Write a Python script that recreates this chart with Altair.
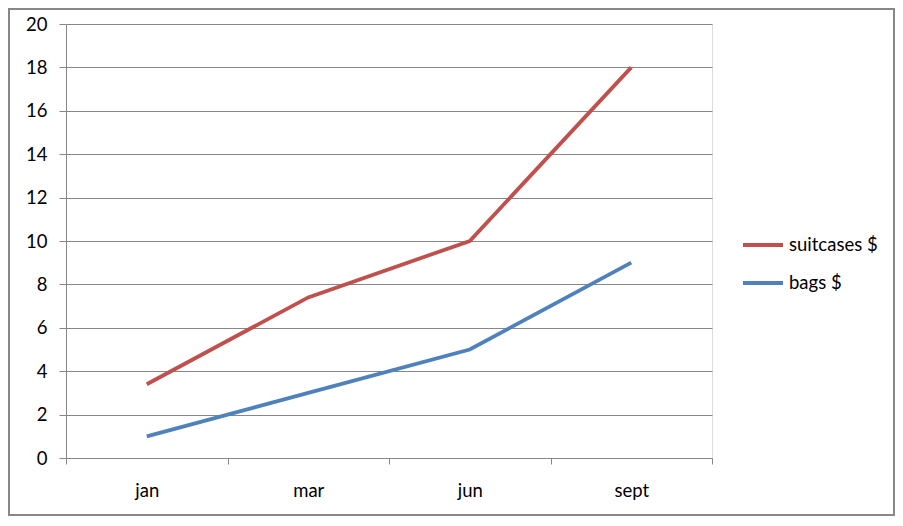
import altair as alt
import pandas as pd

months = ["jan", "mar", "jun", "sept"]
suitcases = [3.4, 7.4, 10, 18]
bags = [1, 3, 5, 9]
series_names = ["suitcases $", "bags $"]
series_colors = ["#C0504D", "#4F81BD"]

rows = []
for m, v in zip(months, suitcases):
    rows.append({"month": m, "value": v, "series": series_names[0]})
for m, v in zip(months, bags):
    rows.append({"month": m, "value": v, "series": series_names[1]})
df = pd.DataFrame(rows)

FONT = "Lato"
FS = 18.5
GRAY = "#878787"
W, H = 646, 434
PL, PT = 58, 16
TW, TH = 887, 508

lines = alt.Chart(df).mark_line(strokeWidth=3.8).encode(
    x=alt.X(
        "month:N",
        sort=months,
        bandPosition=0.5,
        scale=alt.Scale(type="band", paddingInner=0, paddingOuter=0),
        axis=alt.Axis(
            title=None,
            tickBand="extent",
            tickSize=6,
            tickColor=GRAY,
            domainColor=GRAY,
            labelPadding=17,
            labelAngle=0,
            labelFont=FONT,
            labelFontSize=FS,
            labelColor="#000000",
            grid=False,
        ),
    ),
    y=alt.Y(
        "value:Q",
        scale=alt.Scale(domain=[0, 20], nice=False),
        axis=alt.Axis(
            title=None,
            values=list(range(0, 21, 2)),
            tickSize=7,
            tickColor=GRAY,
            domainColor=GRAY,
            gridColor=GRAY,
            grid=True,
            labelPadding=12,
            labelFont=FONT,
            labelFontSize=FS,
            labelColor="#000000",
        ),
    ),
    color=alt.Color(
        "series:N",
        sort=series_names,
        scale=alt.Scale(domain=series_names, range=series_colors),
        legend=alt.Legend(
            title=None,
            orient="none",
            legendX=675,
            legendY=199,
            symbolType="stroke",
            symbolSize=1600,
            symbolStrokeWidth=4,
            labelFont=FONT,
            labelFontSize=FS,
            labelColor="#000000",
            labelOffset=4,
            rowPadding=6,
            padding=0,
        ),
    ),
)

border = alt.Chart(pd.DataFrame({"a": [0]})).mark_rect(
    fillOpacity=0, stroke=GRAY, strokeWidth=2
).encode(
    x=alt.value(-PL + 1),
    x2=alt.value(TW - PL - 1),
    y=alt.value(-PT + 1),
    y2=alt.value(TH - PT - 1),
)

chart = alt.layer(border, lines).properties(
    width=W,
    height=H,
    autosize=alt.AutoSizeParams(type="none"),
    padding={"left": PL, "top": PT, "right": TW - PL - W, "bottom": TH - PT - H},
).configure_view(stroke=None).configure(background="white")

chart.save("out.html", embed_options={"renderer": "svg", "actions": False})
